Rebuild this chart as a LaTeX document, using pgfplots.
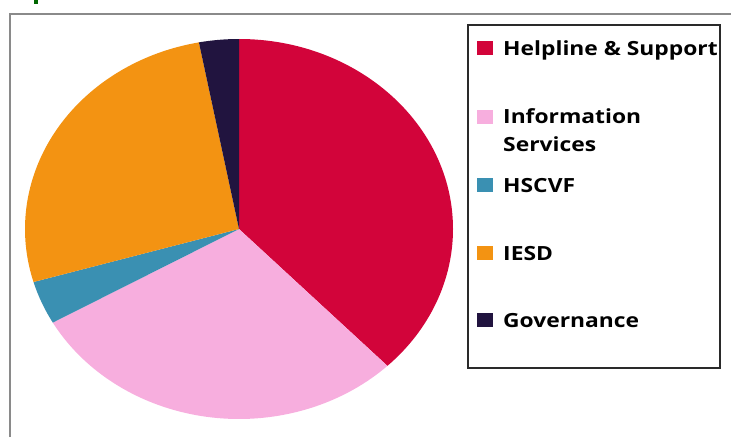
\documentclass[border=0pt]{standalone}
\usepackage{pgfplots}
\pgfplotsset{compat=1.18}
\usepackage{graphicx}
\usepackage{fontspec}
\setmainfont{Open Sans}
\definecolor{cHelp}{HTML}{D2043A}
\definecolor{cInfo}{HTML}{F7AEDE}
\definecolor{cHSC}{HTML}{3A90B2}
\definecolor{cIESD}{HTML}{F39312}
\definecolor{cGov}{HTML}{21143F}
\definecolor{cFrame}{HTML}{8A8A8A}
\definecolor{cLeg}{HTML}{2A2A2A}
\newcommand\curang{90}
\newcommand\pieslice[2]{%
  \pgfmathsetmacro\endang{\curang-3.6*#1}%
  \edef\tmp{\noexpand\fill[#2] (axis cs:239,208) -- ++(\curang:214pt and 190pt) arc[start angle=\curang, end angle=\endang, x radius=214pt, y radius=190pt] -- cycle;}%
  \tmp
  \xdef\curang{\endang}%
}
\newcommand\legtext[1]{\scalebox{1.17}[1]{\fontsize{19.5}{23}\selectfont\bfseries #1}}
\begin{document}
\begin{tikzpicture}
\useasboundingbox (0,0) rectangle (731pt,437pt);
\begin{axis}[x=1pt,y=1pt,xmin=0,xmax=731,ymin=0,ymax=437,hide axis,scale only axis,clip=false,
  at={(0,0)},anchor=south west]
% frame
\draw[cFrame,line width=2pt] (axis cs:10,0) -- (axis cs:10,423) -- (axis cs:731,423);
\fill[green!40!black] (axis cs:34,433) rectangle (axis cs:38,437);
% pie: values in percent, clockwise from 12 o'clock
\pieslice{37.8}{cHelp}
\pieslice{29.0}{cInfo}
\pieslice{3.7}{cHSC}
\pieslice{26.5}{cIESD}
\pieslice{3.0}{cGov}
% legend
\draw[cLeg,line width=1.6pt,fill=white] (axis cs:468,69) rectangle (axis cs:720,412);
\fill[cHelp] (axis cs:477,382) rectangle (axis cs:493,396);
\fill[cInfo] (axis cs:477,313) rectangle (axis cs:493,327);
\fill[cHSC] (axis cs:477,245) rectangle (axis cs:493,259);
\fill[cIESD] (axis cs:477,177) rectangle (axis cs:493,191);
\fill[cGov] (axis cs:477,110) rectangle (axis cs:493,124);
\node[anchor=base west,inner sep=0pt] at (axis cs:503,381) {\legtext{Helpline \& Support}};
\node[anchor=base west,inner sep=0pt] at (axis cs:503,313) {\legtext{Information}};
\node[anchor=base west,inner sep=0pt] at (axis cs:503,285) {\legtext{Services}};
\node[anchor=base west,inner sep=0pt] at (axis cs:503,244) {\legtext{HSCVF}};
\node[anchor=base west,inner sep=0pt] at (axis cs:503,176) {\legtext{IESD}};
\node[anchor=base west,inner sep=0pt] at (axis cs:503,110) {\legtext{Governance}};
\end{axis}
\end{tikzpicture}
\end{document}
